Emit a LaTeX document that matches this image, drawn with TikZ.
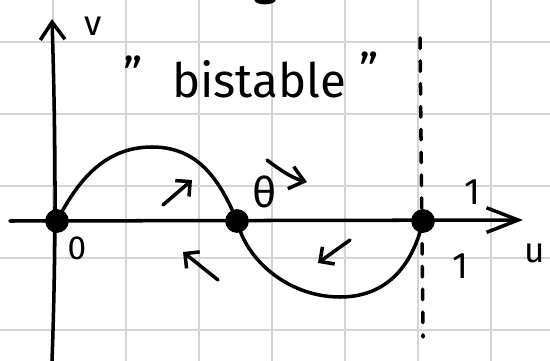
\documentclass[tikz,border=0pt]{standalone}
\usepackage{fontspec}
\setmainfont{Fira Sans}
\usetikzlibrary{arrows.meta}

\begin{document}
\begin{tikzpicture}[x=0.02cm, y=-0.02cm,
  rejilla/.style={draw=black!17, line width=1pt},
  trazo/.style={line width=2pt, line cap=round, line join=round},
  punto/.style={circle, fill=black, inner sep=0pt, minimum size=13.5pt},
  flujo/.style={trazo, -{Straight Barb[length=6pt, width=12pt]}},
  etiqueta/.style={font=\fontsize{20}{22}\selectfont, inner sep=0pt},
]
  \useasboundingbox (0,0) rectangle (550,361);
  \clip (0,0) rectangle (550,361);

  % cuadricula
  \foreach \gx in {53,126,...,491}
    \draw[rejilla] (\gx,0) -- (\gx,361);
  \foreach \gy in {42,114,...,330}
    \draw[rejilla] (0,\gy) -- (550,\gy);

  \fill (265,0) ellipse [x radius=6pt, y radius=2.5pt];

  % ejes
  \coordinate (uizq) at (10,221);
  \coordinate (uder) at (523,220);
  \coordinate (vabajo) at (52,361);
  \coordinate (varriba) at (52,19);
  \draw[trazo, -{Straight Barb[length=18pt, width=14pt]}] (uizq) -- (uder);
  \draw[trazo, -{Straight Barb[length=10pt, width=14pt]}]
    (vabajo) .. controls (56,250) and (56,150) .. (varriba);
  \draw[trazo, dash pattern=on 6pt off 7pt] (420,38) -- (423,337);

  % puntos fijos
  \node[punto] (o) at (57,221) {};
  \node[punto] (m) at (237,221) {};
  \node[punto] (r) at (423,221) {};

  \draw[trazo] (o.center) .. controls (78,180) and (105,147) .. (152,147)
    .. controls (195,147) and (218,175) .. (m.center)
    .. controls (247,262) and (290,297) .. (340,297)
    .. controls (385,297) and (412,268) .. (r.center);

  % flujo
  \draw[flujo] (163,205) -- (192,180);
  \draw[flujo] (218,280) -- (183,252);
  \draw[flujo] (350,240) -- (318,263);
  \draw[trazo, -{Straight Barb[length=8pt, width=13pt]}]
    (267,160) .. controls (280,170) and (292,178) .. (307,182);

  % textos
  \node[etiqueta] (lv) at (93,26) {v};
  \node[etiqueta] (lu) at (535,253) {u};
  \node[etiqueta, font=\fontsize{19}{21}\selectfont] (l0) at (77,248) {0};
  \node[etiqueta, font=\fontsize{21}{23}\selectfont] (luno) at (472,192) {1};
  \node[etiqueta, font=\fontsize{21}{23}\selectfont] (lunob) at (460,266) {1};
  \node[etiqueta, font=\fontsize{24}{26}\selectfont] (theta) at (265,192) {θ};
  \node[etiqueta, font=\fontsize{27}{30}\selectfont, anchor=base]
    (bist) at (259,98) {bistable};
  \node[etiqueta, font=\fontsize{27}{30}\selectfont, anchor=base]
    (comab) at (133,92) {"};
  \node[etiqueta, font=\fontsize{27}{30}\selectfont, anchor=base]
    (comcr) at (369,88) {"};
\end{tikzpicture}
\end{document}
